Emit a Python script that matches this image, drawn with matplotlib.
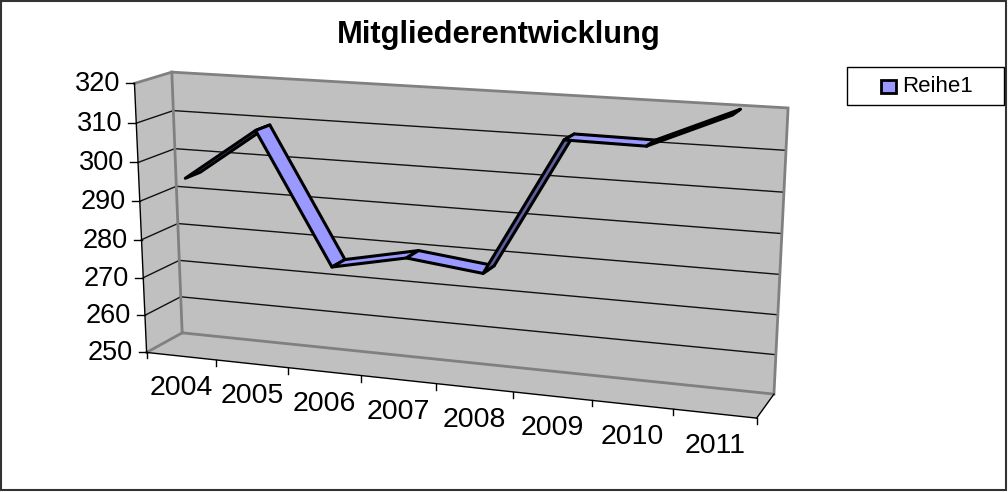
import numpy as np
import matplotlib
matplotlib.use('Agg')
import matplotlib.pyplot as plt
from matplotlib.patches import Polygon, Rectangle

plt.rcParams['font.family'] = ['Liberation Sans', 'DejaVu Sans']

# data
years = ['2004', '2005', '2006', '2007', '2008', '2009', '2010', '2011']
members = [295.5, 309, 275.7, 279.7, 277.5, 311.7, 311.5, 320]
value_ticks = [250, 260, 270, 280, 290, 300, 310, 320]
series_name = 'Reihe1'
title = 'Mitgliederentwicklung'

# the 3d box in the picture: (slot, value, depth) -> pixel, camera fitted below
box_3d = [(0, 250, 0), (8, 250, 0), (0, 250, 1), (8, 250, 1), (0, 320, 1), (8, 320, 1), (0, 320, 0),
          (1, 250, 0), (2, 250, 0), (3, 250, 0), (7, 250, 0),
          (0, 260, 0), (0, 270, 0), (0, 280, 0), (0, 290, 0), (0, 300, 0), (0, 310, 0)]
box_px = [(146, 352), (757, 418), (182, 333), (774, 394), (172, 72), (788, 108), (134, 83),
          (216, 360), (288, 368), (361, 376), (673, 409),
          (145, 315), (144, 277), (142, 240), (140, 202), (138, 163), (136, 123)]


def fit_camera(pts, px):
    rows = []
    for (x, v, z), (u, w) in zip(pts, px):
        p = [x / 8, (v - 250) / 70, z, 1]
        rows.append(p + [0, 0, 0, 0] + [-u * c for c in p])
        rows.append([0, 0, 0, 0] + p + [-w * c for c in p])
    return np.linalg.svd(np.array(rows))[2][-1].reshape(3, 4)


cam = fit_camera(box_3d, box_px)


def pr(x, v, z):
    q = cam @ np.array([x / 8, (v - 250) / 70, z, 1])
    return q[0] / q[2], q[1] / q[2]


fig = plt.figure(figsize=(10.08, 4.92), dpi=100)
ax = fig.add_axes([0, 0, 1, 1])
ax.set_xlim(0, 1008)
ax.set_ylim(492, 0)
ax.axis('off')

ax.add_patch(Rectangle((1, 1), 1005, 489, fc='white', ec='#333333', lw=1.5))

vmin, vmax = value_ticks[0], value_ticks[-1]
n = len(years)
wall = '#C0C0C0'
edge = '#808080'

# walls and floor
ax.add_patch(Polygon([pr(0, vmin, 1), pr(n, vmin, 1), pr(n, vmax, 1), pr(0, vmax, 1)], fc=wall, ec='none'))
ax.add_patch(Polygon([pr(0, vmin, 0), pr(0, vmin, 1), pr(0, vmax, 1), pr(0, vmax, 0)], fc=wall, ec='none'))
ax.add_patch(Polygon([pr(0, vmin, 0), pr(n, vmin, 0), pr(n, vmin, 1), pr(0, vmin, 1)], fc=wall, ec='none'))

# grid lines on side wall and back wall
for v in value_ticks[1:-1]:
    a, b, c = pr(0, v, 0), pr(0, v, 1), pr(n, v, 1)
    ax.plot([a[0], b[0], c[0]], [a[1], b[1], c[1]], color='#111111', lw=1)

for pts in ([pr(0, vmin, 0), pr(0, vmin, 1), pr(n, vmin, 1), pr(n, vmax, 1), pr(0, vmax, 1), pr(0, vmin, 1)],
            [pr(0, vmax, 1), pr(0, vmax, 0)]):
    pts = np.array(pts)
    ax.plot(pts[:, 0], pts[:, 1], color=edge, lw=2, solid_joinstyle='miter')

# axis lines
a, b = pr(0, vmin, 0), pr(0, vmax, 0)
ax.plot([a[0], b[0]], [a[1], b[1]], color='black', lw=1)
a, b = pr(0, vmin, 0), pr(n, vmin, 0)
ax.plot([a[0], b[0]], [a[1], b[1]], color='black', lw=1)
a, b = pr(n, vmin, 0), pr(n, vmin, 1)
ax.plot([a[0], b[0]], [a[1], b[1]], color='black', lw=1)

for v in value_ticks:
    x, y = pr(0, v, 0)
    ax.plot([x - 8, x], [y, y], color='black', lw=1)
    ax.text(x - 14, y + 1, str(v), ha='right', va='center', fontsize=19.5, color='black')

for i in range(n + 1):
    x, y = pr(i, vmin, 0)
    ax.plot([x, x], [y, y + 6], color='black', lw=1)
for i, lab in enumerate(years):
    x, y = pr(i + 0.5, vmin, 0)
    ax.text(x, y + 32, lab, ha='center', va='center', fontsize=20.5, color='black')

# ribbon
z_front, z_back = 0.3, 0.72
for i in range(n - 1):
    p0 = pr(i + 0.5, members[i], z_front)
    p1 = pr(i + 1.5, members[i + 1], z_front)
    p2 = pr(i + 1.5, members[i + 1], z_back)
    p3 = pr(i + 0.5, members[i], z_back)
    face = '#5F5F9F' if members[i + 1] - members[i] > 5 else '#9999FF'
    ax.add_patch(Polygon([p0, p1, p2, p3], fc=face, ec='black', lw=2.2, joinstyle='round', zorder=5))

ax.text(499, 35, title, ha='center', va='center', fontsize=22.2, fontweight='bold', color='black')

# legend
ax.add_patch(Rectangle((847, 67), 157, 38, fc='white', ec='black', lw=1))
ax.add_patch(Rectangle((881, 80), 15, 13, fc='#9999FF', ec='black', lw=2))
ax.text(902, 86, series_name, ha='left', va='center', fontsize=16, color='black')

fig.savefig('out.png', dpi=100)
